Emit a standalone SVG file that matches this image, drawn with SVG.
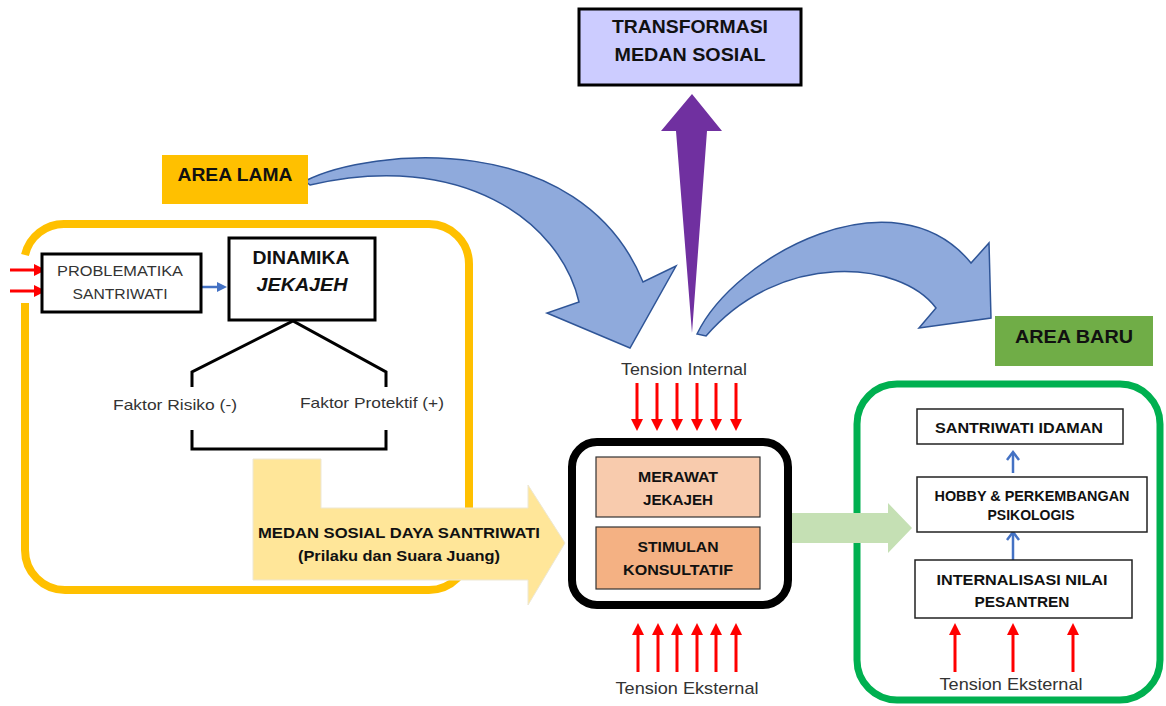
<svg xmlns="http://www.w3.org/2000/svg" width="1166" height="706" viewBox="0 0 1166 706">
<style>
text{font-family:"Liberation Sans",Arial,sans-serif;fill:#111}
.b{font-weight:bold}
.r{fill:#333}
.red{stroke:#FF0000;stroke-width:3;fill:none}
.blu{stroke:#4472C4;stroke-width:2.5;fill:none}
.box{fill:#fff;stroke:#000;stroke-width:3}
.thin{fill:#fff;stroke:#222;stroke-width:1.5}
.barrow{fill:#8FAADC;stroke:#2F5597;stroke-width:1.5}
</style>
<defs>
<marker id="rh" viewBox="0 0 12 12" markerWidth="12" markerHeight="12" refX="2" refY="6" orient="auto" markerUnits="userSpaceOnUse"><path d="M0,0 L12,6 L0,12 z" fill="#FF0000"/></marker>
<marker id="bh" viewBox="0 0 10 10" markerWidth="10" markerHeight="10" refX="2" refY="5" orient="auto" markerUnits="userSpaceOnUse"><path d="M0,0 L10,5 L0,10 z" fill="#4472C4"/></marker>
</defs>

<g id="frame-lama"><path d="M25,303 L25,550 A40,40 0 0 0 65,590 L429,590 A40,40 0 0 0 469,550 L469,264 A40,40 0 0 0 429,224 L65,224 A40,40 0 0 0 25,255" fill="none" stroke="#FFC000" stroke-width="8"/></g>
<g id="frame-baru"><rect x="857" y="384" width="303" height="316" rx="40" fill="none" stroke="#00B050" stroke-width="7"/></g>

<g id="connectors">
<path class="barrow" d="M305,181 C370,148 580,128 643,282 L676,266 L630,348 L547,313 L579,302 C560,220 460,150 310,185 Z"/>
<path class="barrow" d="M697,334 C735,255 895,170 971,263 L989,243 L991,318 L919,328 L936,308 C900,260 780,250 706,336 Z"/>
<polygon points="692,94 722,131 707,131 692,333 676,131 661,131" fill="#7030A0"/>
<line class="red" x1="10" y1="270" x2="36" y2="270" marker-end="url(#rh)"/>
<line class="red" x1="10" y1="291" x2="36" y2="291" marker-end="url(#rh)"/>
<line class="blu" x1="201" y1="287" x2="219" y2="287" marker-end="url(#bh)"/>
<polyline points="192,387 192,372 293,321 386,372 386,387" fill="none" stroke="#000" stroke-width="3"/>
<polyline points="192,430 192,449 386,449 386,430" fill="none" stroke="#000" stroke-width="3"/>
<polygon points="253,459 321,459 321,508 528,508 528,485 565,543 528,605 528,580 253,580" fill="#FFE699" stroke="#EDE7D3" stroke-width="1"/>
<polygon points="790,513 888,513 888,503 912,528 888,553 888,543 790,543" fill="#C5E0B4"/>
<line class="red" x1="637" y1="383" x2="637" y2="421" marker-end="url(#rh)"/>
<line class="red" x1="657" y1="383" x2="657" y2="421" marker-end="url(#rh)"/>
<line class="red" x1="677" y1="383" x2="677" y2="421" marker-end="url(#rh)"/>
<line class="red" x1="697" y1="383" x2="697" y2="421" marker-end="url(#rh)"/>
<line class="red" x1="716" y1="383" x2="716" y2="421" marker-end="url(#rh)"/>
<line class="red" x1="736" y1="383" x2="736" y2="421" marker-end="url(#rh)"/>
<line class="red" x1="638" y1="672" x2="638" y2="633" marker-end="url(#rh)"/>
<line class="red" x1="658" y1="672" x2="658" y2="633" marker-end="url(#rh)"/>
<line class="red" x1="677" y1="672" x2="677" y2="633" marker-end="url(#rh)"/>
<line class="red" x1="697" y1="672" x2="697" y2="633" marker-end="url(#rh)"/>
<line class="red" x1="716" y1="672" x2="716" y2="633" marker-end="url(#rh)"/>
<line class="red" x1="736" y1="672" x2="736" y2="633" marker-end="url(#rh)"/>
<line class="red" x1="955" y1="672" x2="955" y2="633" marker-end="url(#rh)"/>
<line class="red" x1="1013" y1="672" x2="1013" y2="633" marker-end="url(#rh)"/>
<line class="red" x1="1073" y1="672" x2="1073" y2="633" marker-end="url(#rh)"/>
<line class="blu" x1="1013" y1="473" x2="1013" y2="453"/><polyline class="blu" points="1007,460 1013,452 1019,460"/>
<line class="blu" x1="1013" y1="560" x2="1013" y2="533"/><polyline class="blu" points="1007,540 1013,532 1019,540"/>
</g>

<g id="area-lama"><rect x="162" y="155" width="146" height="49" fill="#FFC000"/><text class="b" x="235" y="181" font-size="18" text-anchor="middle" textLength="115" lengthAdjust="spacingAndGlyphs">AREA LAMA</text></g>
<g id="transformasi"><rect x="579" y="9" width="222" height="76" fill="#CCCCFF" stroke="#000" stroke-width="3"/><text class="b" x="690" y="33" font-size="18" text-anchor="middle" textLength="156" lengthAdjust="spacingAndGlyphs">TRANSFORMASI</text><text class="b" x="690" y="61" font-size="18" text-anchor="middle" textLength="151" lengthAdjust="spacingAndGlyphs">MEDAN SOSIAL</text></g>
<g id="area-baru"><rect x="995" y="316" width="158" height="50" fill="#70AD47"/><text class="b" x="1074" y="343" font-size="18" text-anchor="middle" textLength="118" lengthAdjust="spacingAndGlyphs">AREA BARU</text></g>
<g id="problematika"><rect class="box" x="42" y="254" width="159" height="58"/><text class="r" x="120" y="276" font-size="15" text-anchor="middle" textLength="126" lengthAdjust="spacingAndGlyphs">PROBLEMATIKA</text><text class="r" x="120" y="299" font-size="15" text-anchor="middle" textLength="95" lengthAdjust="spacingAndGlyphs">SANTRIWATI</text></g>
<g id="dinamika"><rect class="box" x="229" y="238" width="146" height="82"/><text class="b" x="301" y="264" font-size="18" text-anchor="middle" textLength="97" lengthAdjust="spacingAndGlyphs">DINAMIKA</text><text class="b" x="302" y="291" font-size="18" font-style="italic" text-anchor="middle" textLength="91" lengthAdjust="spacingAndGlyphs">JEKAJEH</text></g>
<g id="faktor-risiko"><text class="r" x="175" y="410" font-size="15" text-anchor="middle" textLength="124" lengthAdjust="spacingAndGlyphs">Faktor Risiko (-)</text></g>
<g id="faktor-protektif"><text class="r" x="372" y="408" font-size="15" text-anchor="middle" textLength="144" lengthAdjust="spacingAndGlyphs">Faktor Protektif (+)</text></g>
<g id="medan-sosial"><text class="b" x="399" y="538" font-size="15" text-anchor="middle" textLength="282" lengthAdjust="spacingAndGlyphs">MEDAN  SOSIAL DAYA  SANTRIWATI</text><text class="b" x="399" y="561" font-size="15" text-anchor="middle" textLength="202" lengthAdjust="spacingAndGlyphs">(Prilaku dan Suara Juang)</text></g>
<g id="tension-internal"><text class="r" x="684" y="375" font-size="17" text-anchor="middle" textLength="126" lengthAdjust="spacingAndGlyphs">Tension Internal</text></g>
<g id="center-box"><rect x="572" y="442" width="216" height="163" rx="25" fill="#fff" stroke="#000" stroke-width="8"/>
<rect x="596" y="457" width="164" height="60" fill="#F8CBAD" stroke="#333" stroke-width="1.2"/>
<text class="b" x="678" y="482" font-size="15" text-anchor="middle" textLength="80" lengthAdjust="spacingAndGlyphs">MERAWAT</text><text class="b" x="678" y="505" font-size="15" text-anchor="middle" textLength="70" lengthAdjust="spacingAndGlyphs">JEKAJEH</text>
<rect x="596" y="527" width="164" height="62" fill="#F4B183" stroke="#333" stroke-width="1.2"/>
<text class="b" x="678" y="552" font-size="15" text-anchor="middle" textLength="81" lengthAdjust="spacingAndGlyphs">STIMULAN</text><text class="b" x="678" y="575" font-size="15" text-anchor="middle" textLength="110" lengthAdjust="spacingAndGlyphs">KONSULTATIF</text></g>
<g id="tension-eksternal-1"><text class="r" x="687" y="694" font-size="17" text-anchor="middle" textLength="143" lengthAdjust="spacingAndGlyphs">Tension Eksternal</text></g>
<g id="santriwati-idaman"><rect class="thin" x="917" y="409" width="206" height="35"/><text class="b" x="1019" y="433" font-size="14" text-anchor="middle" textLength="168" lengthAdjust="spacingAndGlyphs">SANTRIWATI IDAMAN</text></g>
<g id="hobby"><rect class="thin" x="917" y="477" width="230" height="55"/><text class="b" x="1032" y="501" font-size="14" text-anchor="middle" textLength="195" lengthAdjust="spacingAndGlyphs">HOBBY  &amp; PERKEMBANGAN</text><text class="b" x="1031" y="520" font-size="14" text-anchor="middle" textLength="87" lengthAdjust="spacingAndGlyphs">PSIKOLOGIS</text></g>
<g id="internalisasi"><rect class="thin" x="915" y="560" width="217" height="58"/><text class="b" x="1022" y="585" font-size="15" text-anchor="middle" textLength="171" lengthAdjust="spacingAndGlyphs">INTERNALISASI NILAI</text><text class="b" x="1022" y="607" font-size="15" text-anchor="middle" textLength="95" lengthAdjust="spacingAndGlyphs">PESANTREN</text></g>
<g id="tension-eksternal-2"><text class="r" x="1011" y="690" font-size="17" text-anchor="middle" textLength="143" lengthAdjust="spacingAndGlyphs">Tension Eksternal</text></g>
</svg>
